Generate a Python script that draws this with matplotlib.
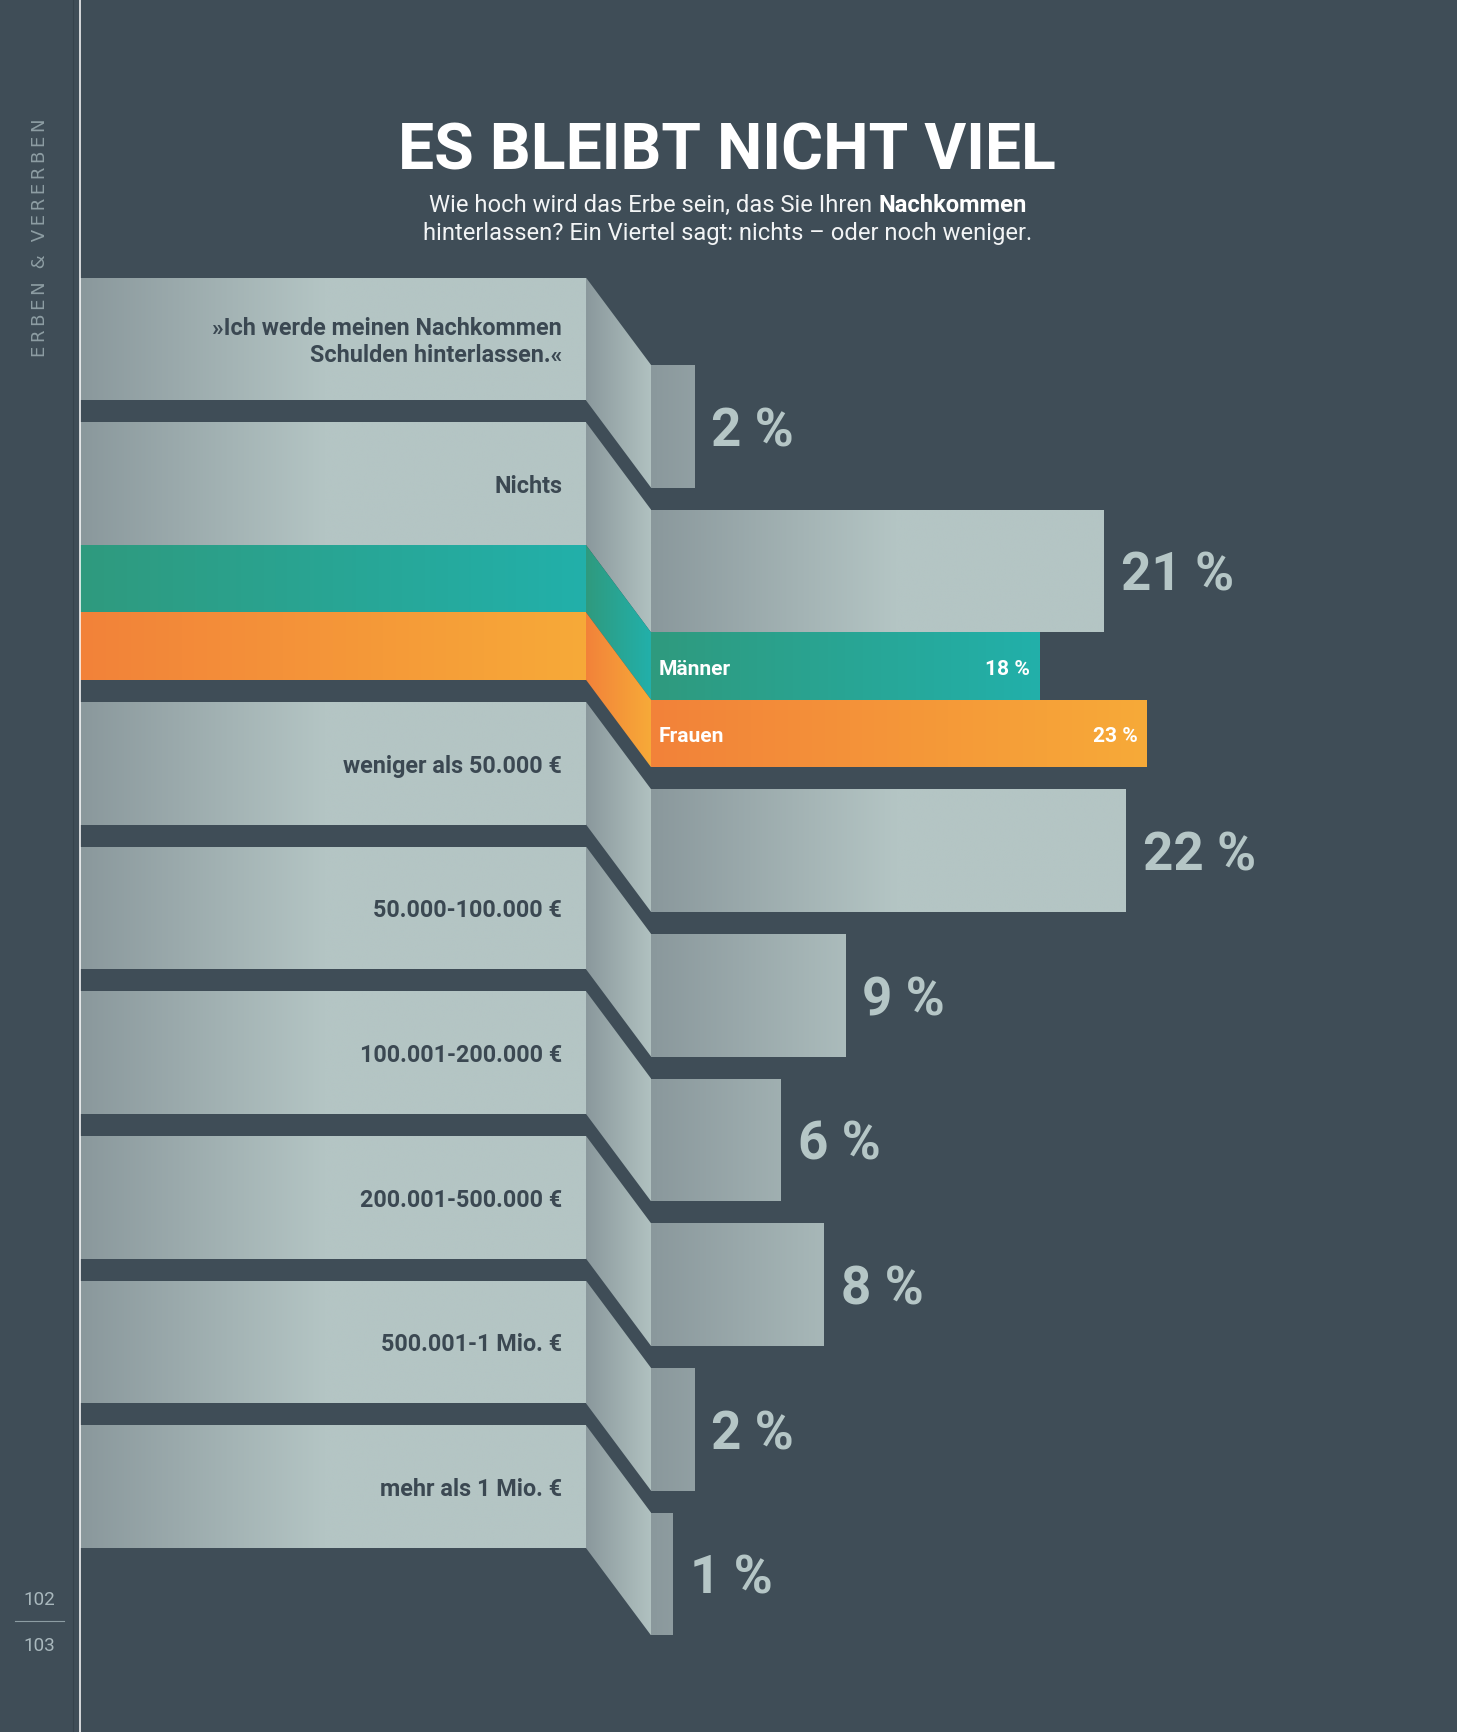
import numpy as np
import matplotlib
matplotlib.use('Agg')
import matplotlib.pyplot as plt
from matplotlib.patches import Polygon
from matplotlib import font_manager
import matplotlib.colors as mcolors

# ---------------- data ----------------
categories = ['»Ich werde meinen Nachkommen\nSchulden hinterlassen.«', 'Nichts',
              'weniger als 50.000 €', '50.000-100.000 €', '100.001-200.000 €',
              '200.001-500.000 €', '500.001-1 Mio. €', 'mehr als 1 Mio. €']
shares = [2, 21, 22, 9, 6, 8, 2, 1]
gender_labels = ['Männer', 'Frauen']
gender_shares = [18, 23]          # split of "Nichts"
title = 'ES BLEIBT NICHT VIEL'
sub_1a = 'Wie hoch wird das Erbe sein, das Sie Ihren '
sub_1b = 'Nachkommen'
sub_2 = 'hinterlassen? Ein Viertel sagt: nichts – oder noch weniger.'
side_text = 'ERBEN & VERERBEN'
pages = ['102', '103']

# ---------------- style / layout ----------------
W, H = 1457, 1733
BG = '#3f4d57'
C_D = np.array(mcolors.to_rgb('#8a989c'))
C_L = np.array(mcolors.to_rgb('#b4c5c4'))
C_T = [np.array(mcolors.to_rgb('#2f9a7e')), np.array(mcolors.to_rgb('#22b0aa'))]
C_O = [np.array(mcolors.to_rgb('#f2823a')), np.array(mcolors.to_rgb('#f7aa38'))]
LABEL_C = '#3b4852'
PCT_C = '#b5c6c6'

X_L0, X_L1, X_R = 80, 586, 651
PX_PCT = 21.56
TOP0, ROW_H, GAP, GEN_H, DROP = 278.6, 122.7, 22.0, 67.4, 87.3
RAMP_PX = 245

names = {f.name for f in font_manager.fontManager.ttflist}
COND = 'Liberation Sans Narrow' if 'Liberation Sans Narrow' in names else 'Roboto'
FAM = [COND, 'DejaVu Sans']
REG = ['Roboto', 'DejaVu Sans']

fig = plt.figure(figsize=(W / 100, H / 100), dpi=100)
fig.patch.set_facecolor(BG)
ax = fig.add_axes([0, 0, 1, 1])
ax.axis('off')
axr = fig.add_axes([X_R / W, 0, 1 - X_R / W, 1])
axr.axis('off')
axr.patch.set_alpha(0)


def hgrad(a, clip, x0, x1, y0, y1, c0, c1, ramp=None, z=2):
    xs = np.linspace(x0, x1, 300)
    if ramp:
        t = np.clip((xs - x0) / ramp, 0, 1)
    else:
        t = (xs - x0) / (x1 - x0)
    rgb = (1 - t)[:, None] * c0 + t[:, None] * c1
    im = a.imshow(rgb[None], extent=(x0, x1, y1, y0), aspect='auto',
                  interpolation='bilinear', zorder=z)
    im.set_clip_path(clip)
    return im


def poly(a, pts, z=1):
    p = Polygon(pts, closed=True, facecolor='none', edgecolor='none', zorder=z)
    a.add_patch(p)
    return p


# row tops
tops, gtops = [], []
y = TOP0
for cat in categories:
    tops.append(y)
    y += ROW_H
    if cat == 'Nichts':
        gtops = [y, y + GEN_H]
        y += 2 * GEN_H
    y += GAP

# left bands + connectors
for t in tops:
    r = poly(ax, [(X_L0, t), (X_L1, t), (X_L1, t + ROW_H), (X_L0, t + ROW_H)])
    hgrad(ax, r, X_L0, X_L1, t, t + ROW_H, C_D, C_L, ramp=RAMP_PX)
    c = poly(ax, [(X_L1, t), (X_R, t + DROP), (X_R, t + DROP + ROW_H), (X_L1, t + ROW_H)])
    hgrad(ax, c, X_L1, X_R, t, t + DROP + ROW_H, C_D, C_L * 0.98)
for t, cc in zip(gtops, [C_T, C_O]):
    r = poly(ax, [(X_L0, t), (X_L1, t), (X_L1, t + GEN_H), (X_L0, t + GEN_H)])
    hgrad(ax, r, X_L0, X_L1, t, t + GEN_H, cc[0], cc[1])
    c = poly(ax, [(X_L1, t), (X_R, t + DROP), (X_R, t + DROP + GEN_H), (X_L1, t + GEN_H)])
    hgrad(ax, c, X_L1, X_R, t, t + DROP + GEN_H, cc[0], cc[1])

# right bars (in percent units)
ramp_pct = RAMP_PX / PX_PCT
yc = [t + DROP + ROW_H / 2 for t in tops]
bars = axr.barh(yc, shares, height=ROW_H, color=C_L, zorder=1)
for b, v in zip(bars, shares):
    hgrad(axr, b, 0, v, b.get_y(), b.get_y() + ROW_H, C_D, C_L, ramp=ramp_pct)
gyc = [t + DROP + GEN_H / 2 for t in gtops]
gbars = axr.barh(gyc, gender_shares, height=GEN_H, color=C_T[1], zorder=1)
for b, v, cc in zip(gbars, gender_shares, [C_T, C_O]):
    hgrad(axr, b, 0, v, b.get_y(), b.get_y() + GEN_H, cc[0], cc[1])

ax.set_xlim(0, W)
ax.set_ylim(H, 0)
axr.set_xlim(0, (W - X_R) / PX_PCT)
axr.set_ylim(H, 0)

# page frame lines
ax.plot([73, 73], [0, H], color='#36434c', lw=0.8, zorder=5)
ax.plot([79.5, 79.5], [0, H], color='white', lw=1.1, zorder=5)

renderer = fig.canvas.get_renderer()


def fit(txt, target, dim='w'):
    e = txt.get_window_extent(renderer)
    cur = e.width if dim == 'w' else e.height
    txt.set_fontsize(txt.get_fontsize() * target / cur)
    return txt.get_fontsize()


def cap(fs):
    return fs * 100 / 72 * 0.716


# title + subtitle
tt = ax.text(727, 169, title, ha='center', va='baseline', color='white',
             fontweight='bold', family=FAM, fontsize=50, zorder=6)
fit(tt, 658)

s2 = ax.text(728, 240, sub_2, ha='center', va='baseline', color='#f2f4f5',
             family=REG, fontweight='normal', fontsize=16, zorder=6)
fs_sub = fit(s2, 610)
s1a = ax.text(0, 212, sub_1a, ha='left', va='baseline', color='#f2f4f5',
              family=REG, fontweight='normal', fontsize=fs_sub, zorder=6)
s1b = ax.text(0, 212, sub_1b, ha='left', va='baseline', color='white',
              family=REG, fontweight='bold', fontsize=fs_sub, zorder=6)
w1 = s1a.get_window_extent(renderer).width
w2 = s1b.get_window_extent(renderer).width
xs = 728 - (w1 + w2) / 2
s1a.set_x(xs)
s1b.set_x(xs + w1)

# category labels
probe = ax.text(0, 0, '50.000-100.000 €', family=FAM, fontweight='bold', fontsize=14)
fs_lab = fit(probe, 189)
probe.remove()
for t, cat in zip(tops, categories):
    lines = cat.split('\n')
    mid = t + ROW_H / 2
    n = len(lines)
    for k, ln in enumerate(lines):
        yy = mid + (k - (n - 1) / 2) * 27 + cap(fs_lab) / 2
        ax.text(562, yy, ln, ha='right', va='baseline', color=LABEL_C,
                family=FAM, fontweight='bold', fontsize=fs_lab, zorder=6)

# percent labels
probe = ax.text(0, 0, '22 %', family=FAM, fontweight='bold', fontsize=40)
fs_pct = fit(probe, 113)
probe.remove()
for y0, v in zip(yc, shares):
    axr.annotate(f'{v} %', (v, y0 + cap(fs_pct) / 2), xytext=(12.5, 0),
                 textcoords='offset points', ha='left', va='baseline',
                 color=PCT_C, family=FAM, fontweight='bold', fontsize=fs_pct, zorder=6)

# gender labels inside bars
probe = ax.text(0, 0, 'Männer', family=FAM, fontweight='bold', fontsize=13)
fs_g = fit(probe, 72)
probe.remove()
for y0, v, lab in zip(gyc, gender_shares, gender_labels):
    yy = y0 + cap(fs_g) / 2
    axr.annotate(lab, (0, yy), xytext=(5.5, 0), textcoords='offset points',
                 ha='left', va='baseline', color='white', family=FAM,
                 fontweight='bold', fontsize=fs_g, zorder=6)
    axr.annotate(f'{v} %', (v, yy), xytext=(-6.5, 0), textcoords='offset points',
                 ha='right', va='baseline', color='white', family=FAM,
                 fontweight='bold', fontsize=fs_g, zorder=6)

# side text + page numbers
st = ax.text(40, 238, '\u2009'.join(side_text), rotation=90, ha='center', va='center',
             color='#8d9da3', family=['DejaVu Sans'], fontsize=12, zorder=6)
fit(st, 239, dim='h')
for p, yy in zip(pages, [1600, 1646]):
    pt = ax.text(39, yy, p, ha='center', va='center', color='#a9b8bd',
                 family=REG, fontweight='normal', fontsize=14, zorder=6)
    fit(pt, 32)
ax.plot([15, 64], [1622, 1622], color='#8d9da3', lw=0.8, zorder=6)

fig.savefig('out.png', dpi=100, facecolor=BG)
